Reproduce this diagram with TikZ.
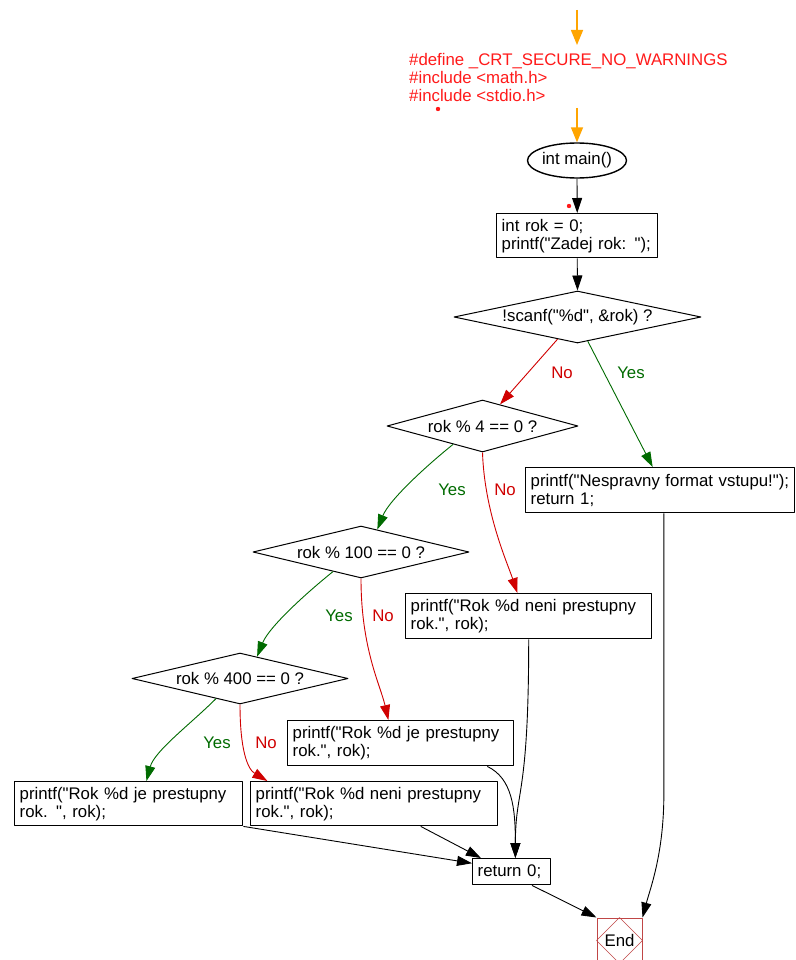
\documentclass[tikz,border=0pt]{standalone}
\usepackage{fontspec}
\setmainfont{Liberation Sans}[Ligatures=TeXOff]
\usetikzlibrary{arrows.meta,shapes.geometric}
\definecolor{hdrred}{HTML}{FF1A1A}
\definecolor{nored}{HTML}{D00000}
\definecolor{yesgreen}{HTML}{006B00}
\definecolor{entryorange}{HTML}{FFA500}
\definecolor{endred}{HTML}{C04646}

\begin{document}
\begin{tikzpicture}[x=1pt,y=-1pt,line join=round,font=\fontsize{16.8}{18}\selectfont]
  \tikzset{
    stmt/.style={draw=black,line width=1.4pt,anchor=north west,align=left,inner xsep=5pt,inner ysep=1pt},
    cond/.style={draw=black,line width=1pt,diamond,aspect=4.5,inner sep=0pt},
    startstop/.style={draw=black,line width=1.4pt,ellipse,inner sep=0pt,minimum width=95pt,minimum height=35pt},
    flow/.style={black,line width=0.9pt,-{Triangle[length=15pt,width=10pt]}},
    yesflow/.style={flow,yesgreen},
    noflow/.style={flow,nored},
    entry/.style={entryorange,line width=1.5pt,-{Triangle[length=15pt,width=12pt]}},
    yeslbl/.style={text=yesgreen,inner sep=0pt},
    nolbl/.style={text=nored,inner sep=0pt},
    endbox/.style={draw=endred,line width=1pt,minimum size=45pt,inner sep=0pt}
  }
  \useasboundingbox (0,0) rectangle (795,960);
  \clip (0,0) rectangle (795,960);
  \fill[white] (0,0) rectangle (795,960);

  % Header.
  \coordinate (orig) at (577,10);
  \coordinate (hdrtop) at (577,45);
  \node[text=hdrred,anchor=north west,inner sep=0pt,align=left] (defs) at (409,53)
    {\#define \_CRT\_SECURE\_NO\_WARNINGS\\\#include <math.h>\\\#include <stdio.h>};
  \coordinate (hdrbot) at (577,108);
  \fill[hdrred] (438,109) circle (2.2);
  \fill[hdrred] (569,206) circle (2.2);

  % Blocks and decisions.
  \node[startstop] (mainfn) at (577,160.5) {int main()};
  \node[stmt,text width=151pt,minimum height=44pt] (init) at (496,213) {int rok = 0;\\printf("Zadej rok: ");};
  \node[cond,minimum width=247pt,minimum height=52pt] (scanchk) at (577.5,317) {!scanf("\%d", \&rok) ?};
  \node[cond,minimum width=191pt,minimum height=52pt] (mod4) at (482.5,426) {rok \% 4 == 0 ?};
  \node[stmt,text width=259pt,minimum height=45pt] (errbox) at (525,467) {printf("Nespravny format vstupu!");\\return 1;};
  \node[cond,minimum width=216pt,minimum height=52pt] (mod100) at (361,552) {rok \% 100 == 0 ?};
  \node[stmt,text width=236pt,minimum height=45pt] (notleapA) at (405,593) {printf("Rok \%d neni prestupny\\rok.", rok);};
  \node[cond,minimum width=216pt,minimum height=51pt] (mod400) at (240,678.5) {rok \% 400 == 0 ?};
  \node[stmt,text width=216pt,minimum height=45pt] (leapB) at (287,720) {printf("Rok \%d je prestupny\\rok.", rok);};
  \node[stmt,text width=218pt,minimum height=44pt] (leapC) at (14,781) {printf("Rok \%d je prestupny\\rok. ", rok);};
  \node[stmt,text width=237pt,minimum height=44pt] (notleapD) at (250,781) {printf("Rok \%d neni prestupny\\rok.", rok);};
  \node[stmt,text width=68pt,minimum height=26pt] (ret0) at (472,858) {return 0;};
  \node[endbox] (endnode) at (619.5,940.5) {End};
  \draw[endred] (endnode.north) -- (endnode.east) -- (endnode.south) -- (endnode.west) -- cycle;

  % Branch labels.
  \node[nolbl] (no1) at (562,373) {No};
  \node[yeslbl] (yes1) at (631,373) {Yes};
  \node[yeslbl] (yes2) at (452,490) {Yes};
  \node[nolbl] (no2) at (505,490) {No};
  \node[yeslbl] (yes3) at (339,616) {Yes};
  \node[nolbl] (no3) at (383,616) {No};
  \node[yeslbl] (yes4) at (217,743) {Yes};
  \node[nolbl] (no4) at (266,743) {No};

  % Connectors.
  \draw[entry] (orig) -- (hdrtop);
  \draw[entry] (hdrbot) -- (mainfn.north);
  \draw[flow] (mainfn.south) -- (init.north);
  \draw[flow] (init.south) -- (scanchk.north);
  \draw[noflow] (scanchk.228) -- (mod4.51);
  \draw[yesflow] (scanchk.293) -- (errbox.108);
  \draw[yesflow] (mod4.212) .. controls +(-25,20) and +(12,-30) .. (mod100.54);
  \draw[noflow] (mod4.south) .. controls +(2,60) and +(-10,-30) .. (notleapA.116);
  \draw[yesflow] (mod100.215) .. controls +(-25,20) and +(12,-30) .. (mod400.52);
  \draw[noflow] (mod100.south) .. controls +(0,70) and +(-8,-35) .. (leapB.118);
  \draw[yesflow] (mod400.220) .. controls +(-25,25) and +(8,-30) .. (leapC.52);
  \draw[noflow] (mod400.south) .. controls +(0,45) and +(-20,-12) .. (notleapD.168);
  \draw[flow] (leapC.south east) -- (ret0.168);
  \draw[flow] (notleapD.334) -- (ret0.156);
  \draw[flow] (notleapA.south) .. controls +(0,160) and +(0,-70) .. (ret0.75);
  \draw[flow] (leapB.345) .. controls +(25,12) and +(0,-50) .. (ret0.75);
  \draw[flow] (ret0.326) -- (endnode.north west);
  \draw[flow] (errbox.279) -- ++(0,280) .. controls +(0,60) and +(8,-30) .. (endnode.north east);
\end{tikzpicture}
\end{document}
